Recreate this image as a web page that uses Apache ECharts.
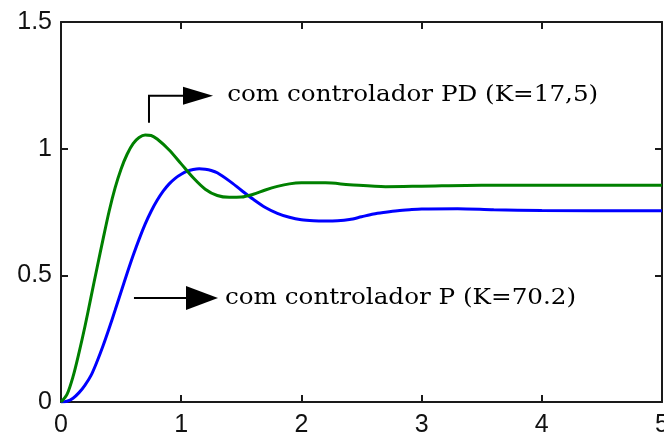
<!DOCTYPE html>
<html>
<head>
<meta charset="utf-8">
<script src="https://cdn.jsdelivr.net/npm/echarts@6/dist/echarts.min.js"></script>
<style>
  html, body { margin: 0; padding: 0; background: #fff; }
  #chart { width: 664px; height: 436px; }
</style>
</head>
<body>
<div id="chart"></div>
<script>
// Step response with proportional controller (K = 70.2)
const timeP = [0, 0.05, 0.1, 0.15, 0.2, 0.25, 0.3, 0.35, 0.4, 0.45, 0.5, 0.55, 0.6, 0.65, 0.7, 0.75, 0.8, 0.85, 0.9, 0.95, 1.0, 1.05, 1.1, 1.15, 1.2, 1.25, 1.3, 1.4, 1.5, 1.6, 1.7, 1.8, 1.9, 2.0, 2.1, 2.2, 2.3, 2.4, 2.5, 2.6, 2.7, 2.8, 2.9, 3.0, 3.3, 3.6, 4.0, 5.0];
const respP = [0, 0.003, 0.015, 0.037, 0.067, 0.105, 0.16, 0.222, 0.29, 0.362, 0.435, 0.508, 0.578, 0.643, 0.702, 0.753, 0.796, 0.832, 0.861, 0.883, 0.899, 0.911, 0.918, 0.921, 0.919, 0.914, 0.905, 0.873, 0.836, 0.8, 0.768, 0.745, 0.729, 0.719, 0.715, 0.714, 0.715, 0.72, 0.731, 0.742, 0.749, 0.755, 0.759, 0.762, 0.763, 0.759, 0.756, 0.755];

// Step response with PD controller (K = 17,5)
const timePD = [0, 0.05, 0.1, 0.15, 0.2, 0.25, 0.3, 0.35, 0.4, 0.45, 0.5, 0.55, 0.6, 0.65, 0.7, 0.75, 0.8, 0.9, 1.0, 1.1, 1.2, 1.3, 1.4, 1.5, 1.6, 1.7, 1.8, 1.9, 2.0, 2.2, 2.4, 2.7, 3.0, 3.5, 4.0, 5.0];
const respPD = [0, 0.03, 0.1, 0.195, 0.3, 0.415, 0.53, 0.643, 0.752, 0.845, 0.92, 0.978, 1.02, 1.044, 1.054, 1.052, 1.038, 0.995, 0.94, 0.885, 0.84, 0.815, 0.808, 0.809, 0.82, 0.837, 0.851, 0.861, 0.865, 0.865, 0.858, 0.85, 0.852, 0.856, 0.856, 0.856];

// Axis ticks
const xTicks = [0, 1, 2, 3, 4, 5];
const yTicks = [0, 0.5, 1, 1.5];

// Annotations (data coordinates): elbow arrow for PD, straight arrow for P
const labelPD = 'com controlador PD (K=17,5)';
const arrowPD = [[0.732, 1.102], [0.732, 1.209], [1.015, 1.209]];
const tipPD = [1.265, 1.209];
const textPosPD = [1.383, 1.209];

const labelP = 'com controlador P (K=70.2)';
const arrowP = [[0.607, 0.411], [1.04, 0.411]];
const tipP = [1.306, 0.411];
const textPosP = [1.364, 0.411];

const zip = (xs, ys) => xs.map((x, i) => [x, ys[i]]);

const chart = echarts.init(document.getElementById('chart'), null, { renderer: 'canvas' });

const axisColor = '#1a1a1a';
const tickFont = { fontFamily: '"Liberation Sans", Arial, sans-serif', fontSize: 25, color: '#111' };

const baseAxis = {
  axisLine: { show: true, onZero: false, lineStyle: { color: axisColor, width: 2 } },
  axisTick: { show: true, inside: true, length: 7, lineStyle: { color: axisColor, width: 2 } },
  splitLine: { show: false }
};

chart.setOption({
  animation: false,
  backgroundColor: '#fff',
  grid: { left: 61, right: 2, top: 22, bottom: 34, containLabel: false, outerBoundsMode: 'none' },
  xAxis: [
    Object.assign({}, baseAxis, {
      type: 'value', position: 'bottom', min: xTicks[0], max: xTicks[xTicks.length - 1], interval: 1,
      axisLabel: Object.assign({ margin: 11 }, tickFont)
    }),
    Object.assign({}, baseAxis, {
      type: 'value', position: 'top', min: xTicks[0], max: xTicks[xTicks.length - 1], interval: 1,
      axisLabel: { show: false }
    })
  ],
  yAxis: [
    Object.assign({}, baseAxis, {
      type: 'value', position: 'left', min: yTicks[0], max: yTicks[yTicks.length - 1], interval: 0.5,
      axisLabel: Object.assign({ margin: 9 }, tickFont)
    }),
    Object.assign({}, baseAxis, {
      type: 'value', position: 'right', min: yTicks[0], max: yTicks[yTicks.length - 1], interval: 0.5,
      axisLabel: { show: false }
    })
  ],
  series: [
    {
      name: 'P', type: 'line', data: zip(timeP, respP), smooth: 0.3, showSymbol: false,
      lineStyle: { color: '#0000ff', width: 3 }, z: 3
    },
    {
      name: 'PD', type: 'line', data: zip(timePD, respPD), smooth: 0.3, showSymbol: false,
      lineStyle: { color: '#008000', width: 3 }, z: 4
    }
  ]
});

// Annotation arrows and labels, positioned from data coordinates
function px(p) { return chart.convertToPixel({ xAxisIndex: 0, yAxisIndex: 0 }, p); }

function arrowHead(base, tip, half) {
  const b = px(base), t = px(tip);
  return {
    type: 'polygon',
    shape: { points: [[b[0], b[1] - half], [t[0], t[1]], [b[0], b[1] + half]] },
    style: { fill: '#000' },
    z: 10
  };
}

function note(text, pos) {
  const p = px(pos);
  return {
    type: 'text', x: p[0], y: p[1], scaleX: 1.12, z: 10,
    style: {
      text: text, fill: '#000', align: 'left', verticalAlign: 'middle',
      font: '22px "DejaVu Serif", serif'
    }
  };
}

chart.setOption({
  graphic: [
    { type: 'polyline', shape: { points: arrowPD.map(px) }, style: { stroke: '#000', lineWidth: 2, fill: null }, z: 10 },
    arrowHead(arrowPD[arrowPD.length - 1], tipPD, 9),
    note(labelPD, textPosPD),
    { type: 'polyline', shape: { points: arrowP.map(px) }, style: { stroke: '#000', lineWidth: 2, fill: null }, z: 10 },
    arrowHead(arrowP[arrowP.length - 1], tipP, 12),
    note(labelP, textPosP)
  ]
});
</script>
</body>
</html>
